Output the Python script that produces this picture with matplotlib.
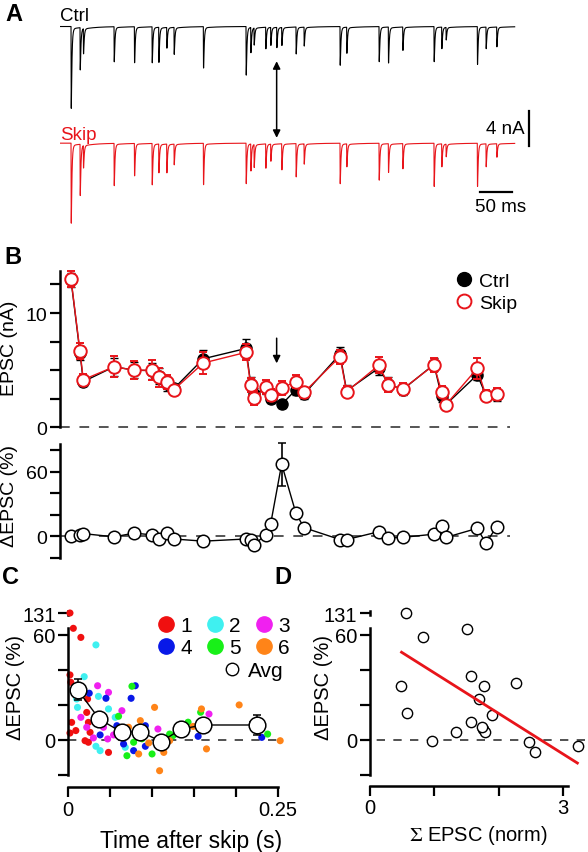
import numpy as np
import matplotlib.pyplot as plt
from matplotlib.lines import Line2D

plt.rcParams['font.family'] = ['Liberation Sans', 'DejaVu Sans']
plt.rcParams['mathtext.fontset'] = 'stix'
plt.rcParams['font.size'] = 14

W, H = 588, 853
RED = '#e8141a'

# ---- panel A: stimulus times (ms) and single-trial EPSC amplitudes (nA) ----
ctrl_times = [17.4, 31.6, 36.8, 85.3, 117.4, 145.3, 155.8, 168.4, 180.0, 226.3,
              293.7, 301.1, 306.3, 324.7, 332.6, 342.1, 350.0, 372.6, 385.3, 442.1,
              452.6, 503.7, 518.4, 541.1, 590.5, 602.6, 609.5, 658.9, 672.6, 689.5]
ctrl_amps = [9.1, 4.7, 2.8, 3.9, 4.0, 4.0, 3.9, 2.3, 3.0, 4.6,
             5.4, 2.8, 1.9, 2.4, 2.0, 2.25, 2.0, 3.0, 2.1, 4.3,
             2.9, 3.9, 4.0, 2.6, 3.9, 2.4, 1.4, 4.2, 2.4, 2.2]
skipped_time = 342.1
skip_times = [t for t in ctrl_times if t != skipped_time]
skip_amps = [8.9, 5.7, 2.5, 4.7, 3.6, 4.6, 3.2, 3.2, 2.3, 4.6,
             4.5, 3.0, 2.55, 2.7, 1.9, 2.9, 3.7, 2.25, 4.5, 2.55,
             4.1, 3.2, 2.8, 4.8, 2.55, 1.4, 4.8, 2.55, 1.5]
trace_end = 718.0

# ---- panel B: mean EPSC per stimulus ----
stim_t = skip_times
epsc_ctrl = [12.9, 6.5, 4.0, 5.3, 5.0, 4.96, 4.5, 3.8, 3.4, 6.0, 6.9, 3.8, 2.9, 3.4, 2.5,
             2.0, 3.3, 2.9, 6.4, 3.2, 5.2, 3.8, 3.3, 5.5, 2.7, 2.0, 4.6, 2.8, 2.8]
epsc_ctrl_err = [0.6, 0.6, 0.4, 0.8, 0.7, 0.7, 0.7, 0.6, 0.4, 0.8, 0.8, 0.6, 0.5, 0.5, 0.4,
                 0.3, 0.5, 0.4, 0.6, 0.5, 0.6, 0.6, 0.5, 0.6, 0.5, 0.3, 0.5, 0.4, 0.5]
epsc_skip = [12.97, 6.65, 4.17, 5.3, 5.0, 5.0, 4.37, 3.94, 3.3, 5.63, 6.56, 3.73, 2.54, 3.5, 2.83,
             3.44, 4.0, 3.06, 6.18, 3.12, 5.45, 3.7, 3.35, 5.45, 3.12, 1.98, 5.16, 2.77, 2.92]
epsc_skip_err = [0.7, 0.7, 0.5, 0.9, 0.8, 0.9, 0.8, 0.6, 0.4, 1.0, 0.7, 0.6, 0.6, 0.6, 0.5,
                 0.6, 0.6, 0.5, 0.6, 0.5, 0.7, 0.6, 0.5, 0.6, 0.5, 0.3, 0.9, 0.5, 0.5]
d_epsc = [0, 1.5, 2.5, -0.5, 3, 1.3, -2.5, 3, -2.5, -4.5, -2.5, -3, -8, 1.5, 11.4,
          67, 21.3, 8, -3, -3, 4.3, -1.5, -1, 2, 10, -1, 7.4, -6.5, 9]
d_epsc_err = [1, 1, 1, 1, 1, 1, 1, 1, 1, 1, 1, 1, 1, 1, 2,
              20, 3, 1, 1, 1, 1, 1, 1, 1, 1, 1, 1, 1, 1]

# ---- panel C: per-cell change vs time after skip ----
cell_labels = ['1', '2', '3', '4', '5', '6']
cell_colors = ['#f01010', '#3ff0f0', '#f020f0', '#0818e8', '#18f018', '#ff8418']
cell_t = [
    [0.002, 0.006, 0.015, 0.002, 0.003, 0.022, 0.004, 0.002, 0.009, 0.026, 0.020, 0.024, 0.048, 0.024, 0.023, 0.008],
    [0.033, 0.019, 0.010, 0.011, 0.036, 0.048, 0.033, 0.038, 0.056, 0.068],
    [0.035, 0.048, 0.015, 0.022, 0.047, 0.064, 0.107, 0.042, 0.054, 0.168, 0.030],
    [0.025, 0.045, 0.080, 0.075, 0.038, 0.066, 0.078, 0.092, 0.155, 0.231, 0.058, 0.092],
    [0.076, 0.060, 0.070, 0.078, 0.100, 0.121, 0.136, 0.143, 0.158, 0.238, 0.125, 0.088],
    [0.103, 0.086, 0.072, 0.084, 0.096, 0.114, 0.109, 0.121, 0.149, 0.159, 0.165, 0.204, 0.253],
]
cell_v = [
    [131, 63.8, 58.6, 37.1, 32.9, 15.6, 9.9, 3.8, 5.2, 4.2, -0.6, -1.5, -7.3, 9.9, 23.3, 30],
    [54.3, 36.1, 23.3, 18.5, 24.8, 17.6, -3.8, -6.3, 12.8, -4.4],
    [30.9, 27.1, 12.8, 7.1, 0.4, 16.6, 6.1, 7.1, 2.7, 14.7, 1.0],
    [26.6, 23.7, 30.9, 23.7, 2.7, -2.5, -6.3, -3.8, 1.9, 1.3, 8.0, 8.0],
    [30.6, 13.4, -9.2, -1.5, -8.2, 3.2, 8.0, 10.0, 15.7, 3.2, 2.3, 0.5],
    [18.5, 10.9, 7.1, -8.2, -1.9, -7.3, -17.8, -0.6, 7.6, 17.6, -5.3, 19.9, -0.6],
]
avg_t = [0.011, 0.037, 0.064, 0.086, 0.111, 0.135, 0.161, 0.225]
avg_v = [28.7, 11.8, 4.2, 4.6, -1.1, 6.1, 8.4, 8.4]
avg_yerr = [6.0, 3.0, 2.0, 2.0, 2.0, 2.0, 3.0, 5.7]
avg_xerr = [0.0, 0.0, 0.0, 0.0, 0.0, 0.0, 0.0, 0.008]

# ---- panel D: change vs summed EPSC ----
sum_epsc = [0.56, 0.83, 1.50, 0.48, 0.58, 0.97, 1.34, 1.57, 1.77, 1.70,
            1.57, 1.76, 1.79, 1.74, 1.89, 2.27, 2.47, 2.56, 3.23]
d_change = [131, 58.7, 63.4, 30.6, 15.3, -0.6, 4.2, 36.7, 30.6, 23.3,
            10.0, 6.1, 4.6, 7.0, 14.2, 32.5, -1.5, -7.2, -3.8]
fit_x = [0.49, 3.22]
fit_y = [50.1, -13.4]


def box(x0, y0, x1, y1):
    # pixel rectangle (top-left origin) -> figure fraction
    return [x0 / W, 1 - y1 / H, (x1 - x0) / W, (y1 - y0) / H]


def epsc_trace(times, amps, t):
    y = np.zeros_like(t)
    kt = np.arange(0, 40, 0.05)
    k = np.exp(-kt / 1.0) - np.exp(-kt / 0.2)
    k = k / k.max()
    for t0, a in zip(times, amps):
        dt = t - t0
        m = dt >= 0
        y[m] -= a * np.interp(dt[m], kt, k, right=0)
        y[m] -= a * 0.03 * np.exp(-dt[m] / 20) * (1 - np.exp(-dt[m] / 1.0))
    return y


def style_axis(ax):
    for s in ['top', 'right', 'bottom']:
        ax.spines[s].set_visible(False)
    ax.spines['left'].set_linewidth(1.8)
    ax.tick_params(axis='y', direction='out', length=7, width=1.6, labelsize=14, pad=2)


def broken_fwd(v):
    v = np.asarray(v, dtype=float)
    return np.where(v <= 64, v, 64 + (v - 64) * 0.128)


def broken_inv(y):
    y = np.asarray(y, dtype=float)
    return np.where(y <= 64, y, 64 + (y - 64) / 0.128)


fig = plt.figure(figsize=(W / 100, H / 100), dpi=100)
X0 = 60.0            # px of t = 0 in panels A and B
PX_MS = 0.6333       # px per ms
xmax = (W - X0) / PX_MS
dash_frac = (510 - X0) / (W - X0)

# ================= A =================
axA = fig.add_axes(box(X0, 0, W, 235))
t = np.arange(0, trace_end, 0.05)
skip_offset = -13.1
axA.plot(t, epsc_trace(ctrl_times, ctrl_amps, t), color='k', lw=0.8)
axA.plot(t, epsc_trace(skip_times, skip_amps, t) + skip_offset, color=RED, lw=0.8)
axA.set_xlim(0, xmax)
axA.set_ylim(-23.3, 3.09)
axA.axis('off')
axA.text(0, 0.75, 'Ctrl', color='k', fontsize=13.5, ha='left', va='baseline')
axA.text(0, skip_offset + 0.45, 'Skip', color=RED, fontsize=13.5, ha='left', va='baseline')
axA.annotate('', xy=(skipped_time, -3.9), xytext=(skipped_time, -12.5),
             arrowprops=dict(arrowstyle='<|-|>', color='k', lw=1.1, mutation_scale=11,
                             shrinkA=0, shrinkB=0))
axA.plot([740.5, 740.5], [-9.46, -13.46], color='k', lw=1.6)
axA.text(733, -11.46, '4 nA', ha='right', va='center', fontsize=13.5)
axA.plot([663, 713], [-18.6, -18.6], color='k', lw=1.6)
axA.text(696, -19.3, '50 ms', ha='center', va='top', fontsize=13.5)

# ================= B (EPSC) =================
axB = fig.add_axes(box(X0, 265, W, 432))
style_axis(axB)
axB.spines['left'].set_bounds(0, 13.7)
axB.set_xlim(0, xmax)
axB.set_ylim(-0.32, 14.29)
axB.set_xticks([])
axB.set_yticks([0, 2.5, 5, 7.5, 10, 12.5])
axB.set_yticklabels(['0', '', '', '', '10', ''])
axB.axhline(0, xmin=0, xmax=dash_frac, color='#555555', lw=1.4, ls=(0, (5, 5)), zorder=0)
axB.errorbar(stim_t, epsc_ctrl, yerr=epsc_ctrl_err, fmt='-o', color='k', mfc='k', mec='k',
             ms=8, lw=1, elinewidth=1.2, capsize=3, zorder=2)
axB.errorbar(stim_t, epsc_skip, yerr=epsc_skip_err, fmt='-o', color=RED, mfc='white', mec=RED,
             ms=9, mew=1.4, lw=1, elinewidth=1.2, capsize=3, zorder=3)
axB.annotate('', xy=(skipped_time, 5.6), xytext=(skipped_time, 7.8),
             arrowprops=dict(arrowstyle='-|>', color='k', lw=1.1, mutation_scale=11,
                             shrinkA=0, shrinkB=0))
axB.set_ylabel('EPSC (nA)', fontsize=14)
axB.yaxis.set_label_coords(-0.08, 0.5)
hB = [Line2D([], [], ls='', marker='o', color='k', ms=10),
      Line2D([], [], ls='', marker='o', mfc='white', mec=RED, mew=1.4, ms=10)]
axB.legend(hB, ['Ctrl', 'Skip'], loc='upper right', bbox_to_anchor=(517 / W, 1 - 273 / H),
           bbox_transform=fig.transFigure, frameon=False, fontsize=14,
           handletextpad=0.1, labelspacing=0.25, borderpad=0, borderaxespad=0,
           handlelength=1.3)

# ================= B (delta EPSC) =================
axB2 = fig.add_axes(box(X0, 440, W, 565))
style_axis(axB2)
axB2.spines['left'].set_bounds(-20, 86)
axB2.set_xlim(0, xmax)
axB2.set_ylim(-25.7, 90.3)
axB2.set_xticks([])
axB2.set_yticks([-20, 0, 20, 40, 60, 80])
axB2.set_yticklabels(['', '0', '', '', '60', ''])
axB2.axhline(0, xmin=0, xmax=dash_frac, color='#555555', lw=1.4, ls=(0, (5, 5)), zorder=0)
axB2.errorbar(stim_t, d_epsc, yerr=d_epsc_err, fmt='-o', color='k', mfc='white', mec='k',
              ms=9, mew=1.1, lw=1, elinewidth=1.2, capsize=3, zorder=3)
axB2.set_ylabel('ΔEPSC (%)', fontsize=14)
axB2.yaxis.set_label_coords(-0.08, 0.55)

# ================= C =================
axC = fig.add_axes(box(60, 600, 290, 778))
axC.set_yscale('function', functions=(broken_fwd, broken_inv))
for s in ['top', 'right']:
    axC.spines[s].set_visible(False)
for s in ['left', 'bottom']:
    axC.spines[s].set_linewidth(1.8)
axC.set_xlim(-0.0099, 0.2647)
axC.set_ylim(-21.4, float(broken_inv(80.6)))
axC.spines['left'].set_position(('data', 0))
axC.spines['left'].set_bounds(-20, 64)
axC.spines['bottom'].set_position(('outward', 7.4))
axC.spines['bottom'].set_bounds(0, 0.25)
axC.set_xticks([0, 0.05, 0.1, 0.15, 0.2, 0.25])
axC.set_xticklabels(['0', '', '', '', '', '0.25'])
axC.set_yticks([-20, 0, 20, 40, 60, 131])
axC.set_yticklabels(['', '0', '', '', '60', '131'])
axC.yaxis.set_minor_locator(plt.NullLocator())
axC.tick_params(direction='out', length=7, width=1.6, labelsize=14.5, pad=2)
axC.plot([0, 0], [122, 142], color='k', lw=1.8, clip_on=False)
axC.axhline(0, xmin=(0 - -0.0099) / 0.2746, xmax=(0.255 + 0.0099) / 0.2746,
            color='#333333', lw=1.2, ls=(0, (5, 5)), zorder=0)
for tt, vv, col in zip(cell_t, cell_v, cell_colors):
    axC.scatter(tt, vv, s=26, color=col, edgecolors='none', zorder=2, clip_on=False)
axC.errorbar(avg_t, avg_v, yerr=avg_yerr, xerr=avg_xerr, fmt='-o', color='k', mfc='white',
             mec='k', ms=12, mew=1.1, lw=1, elinewidth=1.1, capsize=3, zorder=4)
axC.set_ylabel('ΔEPSC (%)', fontsize=14.5)
axC.yaxis.set_label_coords(-0.15, 0.51)
axC.set_xlabel('Time after skip (s)', fontsize=16.5)
axC.xaxis.set_label_coords(0.57, -0.29)
hC = [Line2D([], [], ls='', marker='o', color=c, ms=11) for c in cell_colors]
order = [0, 3, 1, 4, 2, 5]
legC = axC.legend([hC[i] for i in order], [cell_labels[i] for i in order], ncol=3,
                  loc='upper right', bbox_to_anchor=(290 / W, 1 - 617 / H),
                  bbox_transform=fig.transFigure, frameon=False, fontsize=15,
                  handletextpad=0.1, columnspacing=0.5, labelspacing=0.15,
                  handlelength=1.2, borderpad=0, borderaxespad=0)
axC.add_artist(legC)
axC.legend([Line2D([], [], ls='', marker='o', mfc='white', mec='k', mew=1.0, ms=9)], ['Avg'],
           loc='upper right', bbox_to_anchor=(284 / W, 1 - 662 / H),
           bbox_transform=fig.transFigure, frameon=False, fontsize=15,
           handletextpad=0.2, handlelength=1.2, borderpad=0, borderaxespad=0)

# ================= D =================
axD = fig.add_axes(box(360, 600, 588, 778))
axD.set_yscale('function', functions=(broken_fwd, broken_inv))
for s in ['top', 'right']:
    axD.spines[s].set_visible(False)
for s in ['left', 'bottom']:
    axD.spines[s].set_linewidth(1.8)
axD.set_xlim(-0.155, 3.385)
axD.set_ylim(-21.4, float(broken_inv(80.6)))
axD.spines['left'].set_position(('data', 0))
axD.spines['left'].set_bounds(-20, 64)
axD.spines['bottom'].set_position(('outward', 6.3))
axD.spines['bottom'].set_bounds(0, 3.07)
axD.set_xticks([0, 1, 2, 3])
axD.set_xticklabels(['0', '', '', '3'])
axD.set_yticks([-20, 0, 20, 40, 60, 131])
axD.set_yticklabels(['', '0', '', '', '60', '131'])
axD.yaxis.set_minor_locator(plt.NullLocator())
axD.tick_params(direction='out', length=7, width=1.6, labelsize=14.5, pad=2)
axD.plot([0, 0], [122, 142], color='k', lw=1.8, clip_on=False)
axD.axhline(0, xmin=0, xmax=1, color='#333333', lw=1.2, ls=(0, (5, 5)), zorder=0)
axD.scatter(sum_epsc, d_change, s=55, facecolors='white', edgecolors='k', linewidths=1.0,
            zorder=3, clip_on=False)
axD.plot(fit_x, fit_y, color=RED, lw=2, zorder=4)
axD.set_ylabel('ΔEPSC (%)', fontsize=14.5)
axD.yaxis.set_label_coords(-0.12, 0.51)
axD.set_xlabel(r'$\Sigma$ EPSC (norm)', fontsize=14.5)
axD.xaxis.set_label_coords(0.52, -0.26)

# panel letters
for lab, x, y in [('A', 5, 3), ('B', 4, 246), ('C', 2, 566), ('D', 274, 566)]:
    fig.text(x / W, 1 - y / H, lab, fontsize=17, fontweight='bold', ha='left', va='top')

fig.savefig('out.png', dpi=100, facecolor='white')
